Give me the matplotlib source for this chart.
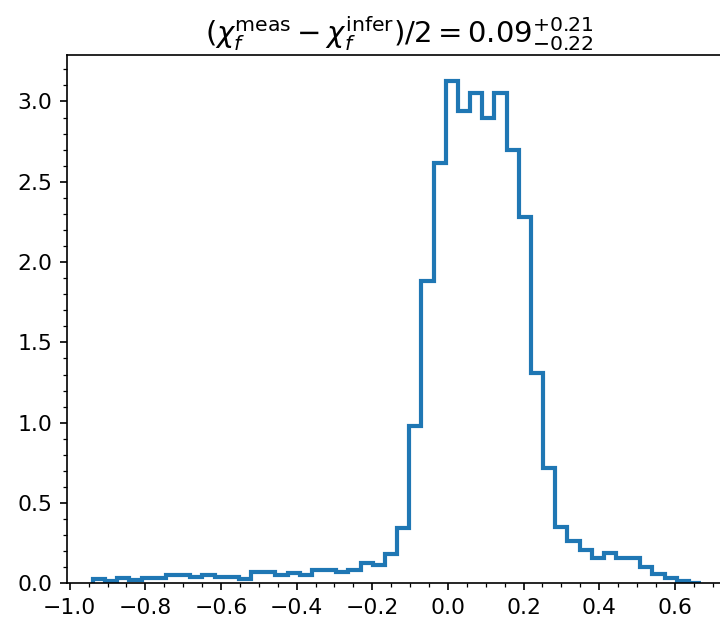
import numpy as np
import matplotlib
matplotlib.use("Agg")
import matplotlib.pyplot as plt

# Histogram (density)
bin_lo = -0.9385
bin_hi = 0.6695
n_bins = 50
heights = [0.025, 0.012, 0.030, 0.020, 0.030, 0.030, 0.052, 0.052, 0.037, 0.052,
           0.041, 0.037, 0.028, 0.072, 0.072, 0.052, 0.062, 0.050, 0.083, 0.083,
           0.068, 0.085, 0.125, 0.115, 0.180, 0.343, 0.980, 1.880, 2.620, 3.130,
           2.940, 3.050, 2.900, 3.050, 2.700, 2.280, 1.310, 0.716, 0.350, 0.265,
           0.210, 0.160, 0.190, 0.160, 0.160, 0.100, 0.060, 0.030, 0.015, 0.005]
title = r'$(\chi_f^{\rm meas} - \chi_f^{\rm infer})/2 = 0.09^{+0.21}_{-0.22}$'

edges = np.linspace(bin_lo, bin_hi, n_bins + 1)
centers = 0.5 * (edges[:-1] + edges[1:])

fig = plt.figure(figsize=(4.8, 622 / 150), dpi=150)
ax = fig.add_axes([0.0926, 0.0622, 0.9235, 0.8486])
ax.hist(centers, bins=edges, weights=heights, histtype='step',
        linewidth=2, color='#1f77b4')
ax.set_xlim(-1.008, 0.75)
ax.set_ylim(0, 3.13 * 1.05)
ax.set_xticks([-1.0, -0.8, -0.6, -0.4, -0.2, 0.0, 0.2, 0.4, 0.6])
ax.set_yticks([0.0, 0.5, 1.0, 1.5, 2.0, 2.5, 3.0])
ax.minorticks_on()
ax.tick_params(labelsize=10.5)
ax.set_title(title, fontsize=14)
fig.savefig("out.png", dpi=150)
